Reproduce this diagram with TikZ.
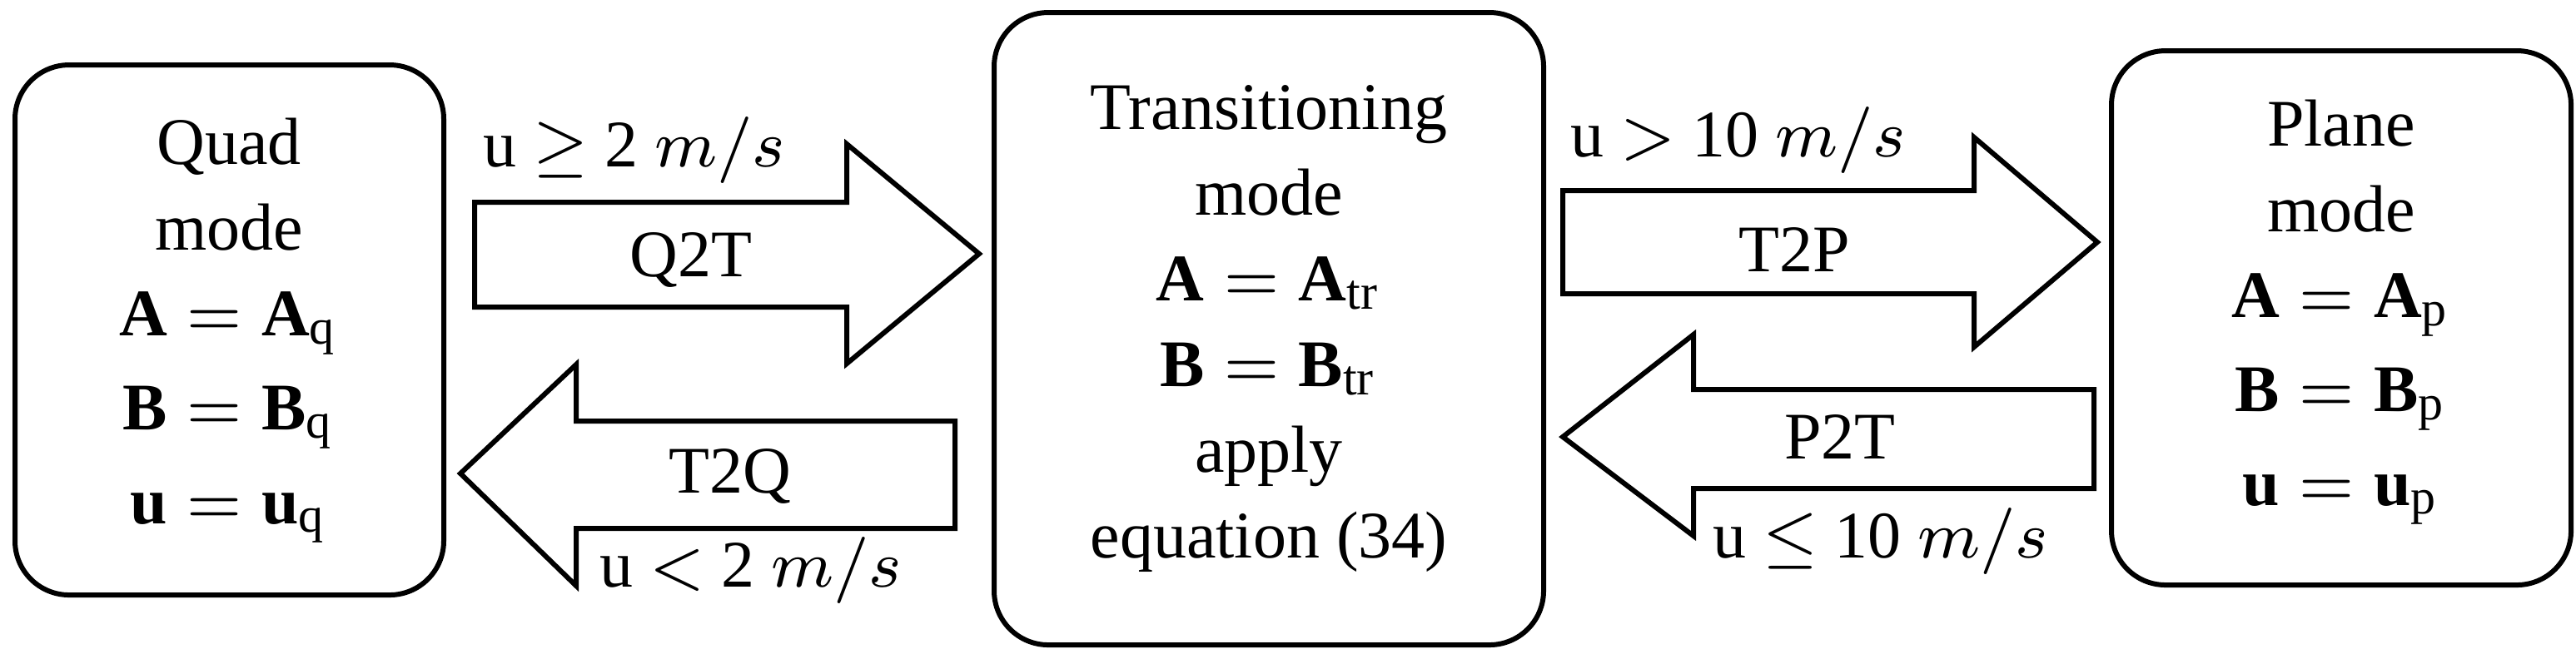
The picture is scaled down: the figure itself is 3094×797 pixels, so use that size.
\documentclass[tikz,border=0pt]{standalone}
\usepackage{fontspec}
\setmainfont{Liberation Serif}
\begin{document}
\begin{tikzpicture}[x=0.1pt,y=-0.1pt,
  box/.style={draw,line width=0.6pt,rounded corners=6.5pt},
  bigarrow/.style={draw,line width=0.6pt,line join=miter},
  txt/.style={font=\fontsize{8}{10.3}\selectfont,align=center,inner sep=0pt},
  lbl/.style={font=\fontsize{8}{10}\selectfont,inner sep=0pt}]
\useasboundingbox (0,0) rectangle (3094,797);
\draw[box] (18,78) rectangle (533,715);
\draw[box] (1194,15) rectangle (1854,775);
\draw[box] (2536,61) rectangle (3088,703);
\node[txt] (quad) at (275,397) {Quad\\mode\\$\mathbf{A}=\mathbf{A}_{\mathrm{q}}$\\[1pt]$\mathbf{B}=\mathbf{B}_{\mathrm{q}}$\\[1pt]$\mathbf{u}=\mathbf{u}_{\mathrm{q}}$};
\node[txt] (trans) at (1524,395) {Transitioning\\mode\\$\mathbf{A}=\mathbf{A}_{\mathrm{tr}}$\\$\mathbf{B}=\mathbf{B}_{\mathrm{tr}}$\\apply\\equation (34)};
\node[txt] (plane) at (2812,375) {Plane\\mode\\$\mathbf{A}=\mathbf{A}_{\mathrm{p}}$\\[1pt]$\mathbf{B}=\mathbf{B}_{\mathrm{p}}$\\[1pt]$\mathbf{u}=\mathbf{u}_{\mathrm{p}}$};
% Q2T
\draw[bigarrow] (570,243) -- (1017,243) -- (1017,173) -- (1176,305) -- (1017,437) -- (1017,369) -- (570,369) -- cycle;
\node[lbl] (q2t) at (830,312) {Q2T};
\node[lbl,anchor=base west] (q2tc) at (578,200) {u $\geq$ 2 $m/s$};
% T2Q
\draw[bigarrow] (1147,506) -- (692,506) -- (692,438) -- (553,569) -- (692,704) -- (692,635) -- (1147,635) -- cycle;
\node[lbl] (t2q) at (877,572) {T2Q};
\node[lbl,anchor=base west] (t2qc) at (718,705) {u $<$ 2 $m/s$};
% T2P
\draw[bigarrow] (1877,229) -- (2371,229) -- (2371,165) -- (2519,291) -- (2371,417) -- (2371,353) -- (1877,353) -- cycle;
\node[lbl] (t2p) at (2155,300) {T2P};
\node[lbl,anchor=base west] (t2pc) at (1884,188) {u $>$ 10 $m/s$};
% P2T
\draw[bigarrow] (2515,468) -- (2034,468) -- (2034,402) -- (1877,525) -- (2034,644) -- (2034,587) -- (2515,587) -- cycle;
\node[lbl] (p2t) at (2210,525) {P2T};
\node[lbl,anchor=base west] (p2tc) at (2055,670) {u $\leq$ 10 $m/s$};
\end{tikzpicture}
\end{document}
